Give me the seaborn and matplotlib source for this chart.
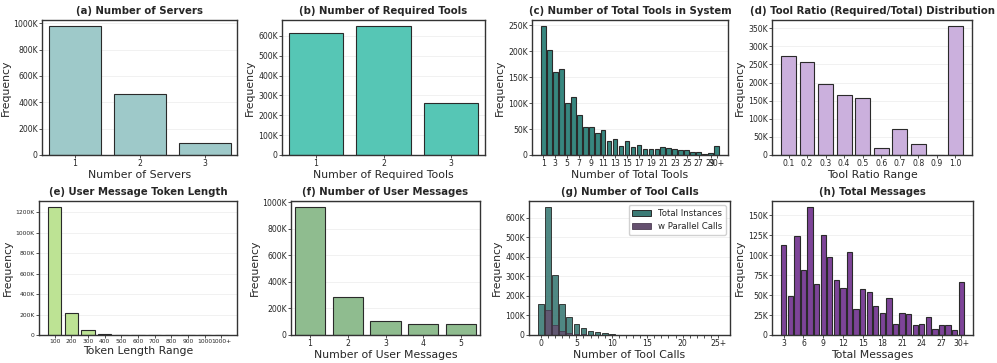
import numpy as np
import pandas as pd
import matplotlib
matplotlib.use('Agg')
import matplotlib.pyplot as plt
import seaborn as sns
from matplotlib.ticker import FuncFormatter
from matplotlib.patches import Patch

# ---- data ----
servers_cats = ['1', '2', '3']
servers_vals = [975000, 460000, 90000]

req_tools_cats = ['1', '2', '3']
req_tools_vals = [615000, 648000, 260000]

total_tools_cats = [str(i) for i in range(1, 30)] + ['30+']
total_tools_vals = [248000, 202000, 160000, 165000, 100000, 112000, 78000, 54000,
                    54000, 43000, 49000, 27000, 30000, 17000, 27000, 15000, 19000,
                    11000, 11000, 11000, 15000, 13000, 11000, 10000, 10000, 6000,
                    5000, 2000, 3000, 18000]

ratio_cats = ['0.1', '0.2', '0.3', '0.4', '0.5', '0.6', '0.7', '0.8', '0.9', '1.0']
ratio_vals = [272000, 256000, 196000, 167000, 157000, 18000, 73000, 30000, 0, 355000]

token_cats = ['100', '200', '300', '400', '500', '600', '700', '800', '900', '1000', '1000+']
token_vals = [1250000, 215000, 50000, 10000, 3000, 1500, 800, 500, 300, 200, 300]

user_msg_cats = ['1', '2', '3', '4', '5']
user_msg_vals = [960000, 285000, 108000, 85000, 83000]

tool_call_cats = [str(i) for i in range(0, 25)] + ['25+']
tool_call_total = [160000, 652000, 307000, 160000, 93000, 58000, 35000, 22000, 14000,
                   8000, 4000, 2500, 1500, 1000, 800, 600, 500, 400, 300, 250, 200,
                   150, 120, 100, 80, 300]
tool_call_parallel = [0, 130000, 50000, 22000, 12000, 6000, 3000, 1500, 800, 400, 200,
                      100, 50, 30, 20, 10, 10, 5, 5, 5, 5, 5, 5, 5, 5, 10]

total_msg_cats = [str(i) for i in range(3, 30)] + ['30+']
total_msg_vals = [113000, 49000, 124000, 82000, 160000, 64000, 126000, 98000, 69000,
                  59000, 104000, 33000, 58000, 54000, 36000, 28000, 47000, 14000,
                  27000, 26000, 13000, 14000, 22000, 7000, 12000, 12000, 6000, 66000]

# ---- style ----
sns.set_theme(style='whitegrid')
plt.rcParams['font.family'] = ['DejaVu Sans']

TITLE_FS = 7.3
LABEL_FS = 7.8
TICK_FS = 5.6
EDGE = '#2a2a2a'


def kfmt(v, pos):
    if v == 0:
        return '0'
    return f'{v / 1000:.0f}K'


def style_ax(ax, title, xlabel, tick_fs=TICK_FS):
    ax.set_title(title, fontsize=TITLE_FS, fontweight='bold', pad=4)
    ax.set_xlabel(xlabel, fontsize=LABEL_FS, labelpad=1)
    ax.set_ylabel('Frequency', fontsize=LABEL_FS, labelpad=2)
    ax.yaxis.set_major_formatter(FuncFormatter(kfmt))
    ax.tick_params(axis='both', labelsize=tick_fs, length=2, width=0.6, pad=1,
                   color='#333333', bottom=True, left=True)
    ax.grid(axis='y', color='#ececec', linewidth=0.5)
    ax.grid(axis='x', visible=False)
    for s in ax.spines.values():
        s.set_color('#333333')
        s.set_linewidth(1.0)


def simple_bar(ax, cats, vals, color, width=0.8):
    df = pd.DataFrame({'cat': cats, 'val': vals})
    sns.barplot(data=df, x='cat', y='val', order=cats, color=color, saturation=1,
                edgecolor=EDGE, linewidth=0.8, width=width, ax=ax)


def loose_xlim(ax, n, width=0.8):
    # matplotlib-style 5% margins instead of seaborn's tight categorical limits
    pad = 0.05 * (n - 1 + width)
    ax.set_xlim(-width / 2 - pad, n - 1 + width / 2 + pad)


fig, axes = plt.subplots(2, 4, figsize=(9.97, 3.63), dpi=100)
W, H = 997.0, 363.0
boxes = [
    (42, 237, 20, 155), (282, 485, 20, 155), (532, 728, 20, 155), (772, 972, 20, 155),
    (39, 237, 201, 335), (291, 480, 201, 335), (529, 730, 201, 335), (772, 973, 201, 335),
]
for ax, (l, r, t, b) in zip(axes.flat, boxes):
    ax.set_position([l / W, 1 - b / H, (r - l) / W, (b - t) / H])

# (a)
ax = axes[0, 0]
simple_bar(ax, servers_cats, servers_vals, '#9ec9c9')
style_ax(ax, '(a) Number of Servers', 'Number of Servers')

# (b)
ax = axes[0, 1]
simple_bar(ax, req_tools_cats, req_tools_vals, '#56c6b5')
style_ax(ax, '(b) Number of Required Tools', 'Number of Required Tools')

# (c)
ax = axes[0, 2]
simple_bar(ax, total_tools_cats, total_tools_vals, '#37877f')
style_ax(ax, '(c) Number of Total Tools in System', 'Number of Total Tools')
loose_xlim(ax, len(total_tools_cats))
tpos = list(range(0, 29, 2)) + [29]
ax.set_xticks(tpos)
ax.set_xticklabels([total_tools_cats[i] for i in tpos])

# (d)
ax = axes[0, 3]
simple_bar(ax, ratio_cats, ratio_vals, '#cbb0dd')
style_ax(ax, '(d) Tool Ratio (Required/Total) Distribution', 'Tool Ratio Range')
loose_xlim(ax, len(ratio_cats))

# (e)
ax = axes[1, 0]
simple_bar(ax, token_cats, token_vals, '#bde394')
style_ax(ax, '(e) User Message Token Length', 'Token Length Range', tick_fs=4.3)
loose_xlim(ax, len(token_cats))

# (f)
ax = axes[1, 1]
simple_bar(ax, user_msg_cats, user_msg_vals, '#8fbc8f')
style_ax(ax, '(f) Number of User Messages', 'Number of User Messages')

# (g)
ax = axes[1, 2]
total_col = '#3c7b76'
par_col = '#65506f'
dfg = pd.DataFrame({'cat': tool_call_cats, 'total': tool_call_total,
                    'par': tool_call_parallel})
sns.barplot(data=dfg, x='cat', y='total', order=tool_call_cats, color=total_col,
            saturation=1, alpha=0.9, edgecolor=EDGE, linewidth=0.7, ax=ax)
sns.barplot(data=dfg, x='cat', y='par', order=tool_call_cats, color=par_col,
            saturation=1, alpha=0.85, edgecolor='#3a2a40', linewidth=0.5, ax=ax)
style_ax(ax, '(g) Number of Tool Calls', 'Number of Tool Calls')
loose_xlim(ax, len(tool_call_cats))
ax.set_xticks(range(len(tool_call_cats)))
ax.set_xticklabels([c if i % 5 == 0 else '' for i, c in enumerate(tool_call_cats)])
ax.legend(handles=[Patch(facecolor=total_col, edgecolor=EDGE, linewidth=0.7,
                         label='Total Instances'),
                   Patch(facecolor=par_col, edgecolor='#3a2a40', linewidth=0.5,
                         label='w Parallel Calls')],
          loc='upper right', fontsize=6.2, frameon=True, framealpha=0.9,
          borderpad=0.4, handlelength=2.2)

# (h)
ax = axes[1, 3]
simple_bar(ax, total_msg_cats, total_msg_vals, '#7d4498')
style_ax(ax, '(h) Total Messages', 'Total Messages')
loose_xlim(ax, len(total_msg_cats))
hpos = list(range(0, 28, 3))
hpos[-1] = 27
ax.set_xticks(hpos)
ax.set_xticklabels([total_msg_cats[i] for i in hpos])

plt.savefig('out.png', dpi=100)
plt.close()
